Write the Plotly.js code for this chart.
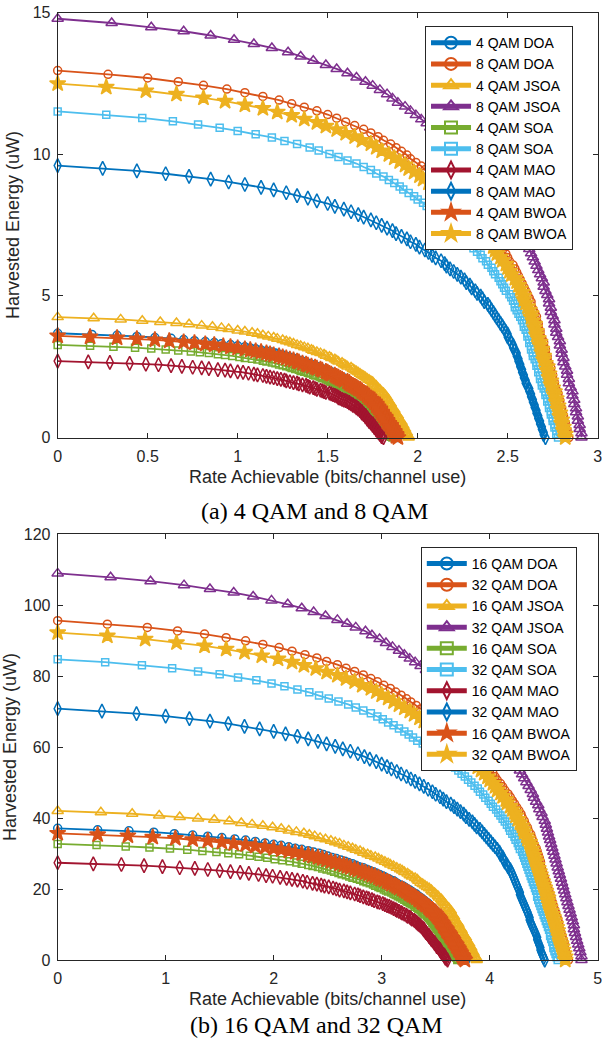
<!DOCTYPE html>
<html>
<head>
<meta charset="utf-8">
<script src="https://cdn.plot.ly/plotly-3.0.1.min.js"></script>
<style>html,body{margin:0;padding:0;background:#fff;}#chart{width:602px;height:1045px;}</style>
</head>
<body>
<div id="chart"></div>
<script>
// ---------- Panel (a): 4 QAM and 8 QAM ----------
const rate4DOA = [0,0.19,0.33,0.44,0.54,0.63,0.70,0.76,0.82,0.87,0.91,0.96,1.00,1.04,1.07,1.10,1.13,1.16,1.19,1.21,1.23,1.25,1.27,1.29,1.31,1.33,1.35,1.36,1.38,1.40,1.41,1.43,1.45,1.46,1.47,1.49,1.50,1.52,1.53,1.54,1.55,1.56,1.58,1.59,1.60,1.61,1.62,1.63,1.64,1.65,1.66,1.67,1.67,1.68,1.69,1.70,1.71,1.71,1.72,1.73,1.73,1.74,1.74,1.75,1.76,1.76,1.77,1.77,1.77,1.78,1.78,1.79,1.79,1.79,1.80,1.80,1.80,1.81,1.81,1.82,1.82,1.82,1.83,1.83,1.84,1.84,1.84,1.85,1.85,1.85,1.86,1.86,1.86,1.87,1.87,1.87,1.88,1.88,1.88,1.89,1.89];
const energy4DOA = [3.68,3.64,3.61,3.57,3.53,3.50,3.46,3.42,3.39,3.35,3.31,3.28,3.24,3.20,3.16,3.13,3.09,3.05,3.02,2.98,2.94,2.91,2.87,2.83,2.80,2.76,2.72,2.69,2.65,2.61,2.58,2.54,2.50,2.47,2.43,2.39,2.36,2.32,2.28,2.24,2.21,2.17,2.13,2.10,2.06,2.02,1.99,1.95,1.91,1.88,1.84,1.80,1.77,1.73,1.69,1.66,1.62,1.58,1.55,1.51,1.47,1.44,1.40,1.36,1.32,1.29,1.25,1.21,1.18,1.14,1.10,1.07,1.03,0.99,0.96,0.92,0.88,0.85,0.81,0.77,0.74,0.70,0.66,0.63,0.59,0.55,0.52,0.48,0.44,0.40,0.37,0.33,0.29,0.26,0.22,0.18,0.15,0.11,0.07,0.04,0];

const rate8DOA = [0,0.28,0.50,0.67,0.81,0.94,1.04,1.14,1.23,1.30,1.37,1.44,1.50,1.55,1.60,1.65,1.70,1.74,1.78,1.81,1.85,1.88,1.91,1.94,1.96,1.99,2.02,2.04,2.07,2.10,2.12,2.15,2.17,2.19,2.21,2.23,2.25,2.27,2.29,2.31,2.33,2.35,2.36,2.38,2.40,2.42,2.43,2.44,2.46,2.47,2.49,2.50,2.51,2.53,2.54,2.55,2.56,2.57,2.58,2.59,2.60,2.61,2.62,2.63,2.63,2.64,2.65,2.66,2.66,2.67,2.67,2.68,2.68,2.69,2.70,2.70,2.71,2.71,2.72,2.72,2.73,2.74,2.74,2.75,2.75,2.76,2.76,2.77,2.78,2.78,2.79,2.79,2.80,2.80,2.81,2.81,2.82,2.82,2.83,2.83,2.84];
const energy8DOA = [12.95,12.82,12.69,12.56,12.43,12.30,12.17,12.04,11.91,11.78,11.66,11.53,11.40,11.27,11.14,11.01,10.88,10.75,10.62,10.49,10.36,10.23,10.10,9.97,9.84,9.71,9.58,9.45,9.32,9.19,9.07,8.94,8.81,8.68,8.55,8.42,8.29,8.16,8.03,7.90,7.77,7.64,7.51,7.38,7.25,7.12,6.99,6.86,6.73,6.60,6.48,6.35,6.22,6.09,5.96,5.83,5.70,5.57,5.44,5.31,5.18,5.05,4.92,4.79,4.66,4.53,4.40,4.27,4.14,4.01,3.89,3.76,3.63,3.50,3.37,3.24,3.11,2.98,2.85,2.72,2.59,2.46,2.33,2.20,2.07,1.94,1.81,1.68,1.55,1.42,1.30,1.17,1.04,0.91,0.78,0.65,0.52,0.39,0.26,0.13,0];

const rate4JSOA = [0,0.20,0.35,0.47,0.57,0.66,0.73,0.80,0.86,0.91,0.95,1.00,1.04,1.08,1.11,1.14,1.17,1.20,1.22,1.25,1.27,1.29,1.31,1.33,1.35,1.37,1.39,1.41,1.42,1.44,1.46,1.48,1.49,1.51,1.52,1.54,1.55,1.56,1.58,1.59,1.60,1.61,1.63,1.64,1.65,1.66,1.67,1.68,1.69,1.70,1.71,1.72,1.73,1.74,1.75,1.75,1.76,1.77,1.77,1.78,1.79,1.79,1.80,1.81,1.81,1.82,1.82,1.83,1.83,1.83,1.84,1.84,1.85,1.85,1.85,1.86,1.86,1.87,1.87,1.87,1.88,1.88,1.89,1.89,1.89,1.90,1.90,1.91,1.91,1.91,1.92,1.92,1.92,1.93,1.93,1.93,1.94,1.94,1.94,1.95,1.95];
const energy4JSOA = [4.25,4.21,4.17,4.12,4.08,4.04,4.00,3.95,3.91,3.87,3.83,3.78,3.74,3.70,3.66,3.61,3.57,3.53,3.49,3.44,3.40,3.36,3.32,3.27,3.23,3.19,3.15,3.10,3.06,3.02,2.98,2.93,2.89,2.85,2.81,2.76,2.72,2.68,2.64,2.59,2.55,2.51,2.47,2.42,2.38,2.34,2.30,2.25,2.21,2.17,2.13,2.08,2.04,2.00,1.96,1.91,1.87,1.83,1.79,1.74,1.70,1.66,1.62,1.57,1.53,1.49,1.45,1.40,1.36,1.32,1.28,1.23,1.19,1.15,1.11,1.06,1.02,0.98,0.94,0.89,0.85,0.81,0.77,0.72,0.68,0.64,0.60,0.55,0.51,0.47,0.43,0.38,0.34,0.30,0.26,0.21,0.17,0.13,0.09,0.04,0];

const rate8JSOA = [0,0.30,0.52,0.70,0.85,0.98,1.09,1.19,1.28,1.35,1.42,1.49,1.55,1.61,1.66,1.71,1.75,1.79,1.83,1.86,1.89,1.93,1.96,1.99,2.02,2.05,2.07,2.10,2.12,2.15,2.18,2.20,2.23,2.25,2.27,2.29,2.31,2.33,2.35,2.38,2.39,2.41,2.43,2.44,2.46,2.48,2.49,2.51,2.52,2.54,2.55,2.57,2.58,2.59,2.60,2.62,2.63,2.64,2.65,2.66,2.67,2.68,2.69,2.70,2.70,2.71,2.72,2.73,2.73,2.74,2.74,2.75,2.76,2.76,2.77,2.77,2.78,2.79,2.79,2.80,2.80,2.81,2.81,2.82,2.83,2.83,2.84,2.84,2.85,2.86,2.86,2.87,2.87,2.88,2.88,2.89,2.89,2.90,2.90,2.91,2.91];
const energy8JSOA = [14.78,14.63,14.48,14.34,14.19,14.04,13.89,13.75,13.60,13.45,13.30,13.15,13.01,12.86,12.71,12.56,12.42,12.27,12.12,11.97,11.82,11.68,11.53,11.38,11.23,11.09,10.94,10.79,10.64,10.49,10.35,10.20,10.05,9.90,9.75,9.61,9.46,9.31,9.16,9.02,8.87,8.72,8.57,8.42,8.28,8.13,7.98,7.83,7.69,7.54,7.39,7.24,7.09,6.95,6.80,6.65,6.50,6.36,6.21,6.06,5.91,5.76,5.62,5.47,5.32,5.17,5.03,4.88,4.73,4.58,4.43,4.29,4.14,3.99,3.84,3.70,3.55,3.40,3.25,3.10,2.96,2.81,2.66,2.51,2.36,2.22,2.07,1.92,1.77,1.63,1.48,1.33,1.18,1.03,0.89,0.74,0.59,0.44,0.30,0.15,0];

const rate4SOA = [0,0.18,0.31,0.43,0.52,0.60,0.67,0.74,0.79,0.84,0.89,0.93,0.97,1.01,1.04,1.08,1.11,1.14,1.16,1.19,1.21,1.23,1.25,1.27,1.29,1.30,1.32,1.34,1.35,1.37,1.39,1.40,1.42,1.43,1.45,1.46,1.47,1.49,1.50,1.51,1.52,1.54,1.55,1.56,1.57,1.58,1.59,1.60,1.61,1.62,1.63,1.64,1.64,1.65,1.66,1.67,1.68,1.68,1.69,1.70,1.70,1.71,1.71,1.72,1.72,1.73,1.73,1.74,1.74,1.75,1.75,1.75,1.76,1.76,1.76,1.77,1.77,1.78,1.78,1.78,1.79,1.79,1.79,1.80,1.80,1.80,1.81,1.81,1.82,1.82,1.82,1.83,1.83,1.83,1.84,1.84,1.84,1.85,1.85,1.85,1.86];
const energy4SOA = [3.27,3.24,3.20,3.17,3.14,3.11,3.07,3.04,3.01,2.98,2.94,2.91,2.88,2.84,2.81,2.78,2.75,2.71,2.68,2.65,2.62,2.58,2.55,2.52,2.49,2.45,2.42,2.39,2.35,2.32,2.29,2.26,2.22,2.19,2.16,2.13,2.09,2.06,2.03,1.99,1.96,1.93,1.90,1.86,1.83,1.80,1.77,1.73,1.70,1.67,1.64,1.60,1.57,1.54,1.50,1.47,1.44,1.41,1.37,1.34,1.31,1.28,1.24,1.21,1.18,1.14,1.11,1.08,1.05,1.01,0.98,0.95,0.92,0.88,0.85,0.82,0.78,0.75,0.72,0.69,0.65,0.62,0.59,0.56,0.52,0.49,0.46,0.43,0.39,0.36,0.33,0.29,0.26,0.23,0.20,0.16,0.13,0.10,0.07,0.03,0];

const rate8SOA = [0,0.27,0.47,0.64,0.78,0.90,1.00,1.10,1.19,1.26,1.33,1.40,1.45,1.51,1.56,1.61,1.66,1.70,1.74,1.77,1.81,1.84,1.87,1.90,1.92,1.95,1.98,2.00,2.03,2.05,2.08,2.10,2.12,2.15,2.16,2.19,2.21,2.23,2.24,2.26,2.28,2.30,2.31,2.33,2.35,2.36,2.38,2.39,2.41,2.42,2.43,2.45,2.46,2.47,2.48,2.49,2.51,2.52,2.53,2.54,2.54,2.55,2.56,2.57,2.58,2.59,2.59,2.60,2.61,2.61,2.62,2.62,2.63,2.63,2.64,2.64,2.65,2.66,2.66,2.67,2.67,2.68,2.68,2.69,2.69,2.70,2.71,2.71,2.72,2.72,2.73,2.73,2.74,2.74,2.75,2.75,2.76,2.76,2.77,2.77,2.78];
const energy8SOA = [11.51,11.39,11.28,11.16,11.05,10.93,10.82,10.70,10.59,10.47,10.36,10.24,10.13,10.01,9.90,9.78,9.67,9.55,9.44,9.32,9.21,9.09,8.98,8.86,8.75,8.63,8.52,8.40,8.29,8.17,8.06,7.94,7.83,7.71,7.60,7.48,7.37,7.25,7.14,7.02,6.91,6.79,6.68,6.56,6.45,6.33,6.22,6.10,5.99,5.87,5.76,5.64,5.52,5.41,5.29,5.18,5.06,4.95,4.83,4.72,4.60,4.49,4.37,4.26,4.14,4.03,3.91,3.80,3.68,3.57,3.45,3.34,3.22,3.11,2.99,2.88,2.76,2.65,2.53,2.42,2.30,2.19,2.07,1.96,1.84,1.73,1.61,1.50,1.38,1.27,1.15,1.04,0.92,0.81,0.69,0.58,0.46,0.35,0.23,0.12,0];

const rate4MAO = [0,0.17,0.29,0.40,0.49,0.56,0.63,0.69,0.75,0.80,0.84,0.89,0.93,0.96,1.00,1.03,1.06,1.09,1.11,1.14,1.16,1.18,1.20,1.22,1.24,1.26,1.27,1.29,1.31,1.33,1.34,1.36,1.38,1.39,1.40,1.42,1.43,1.44,1.46,1.47,1.48,1.49,1.51,1.52,1.53,1.54,1.55,1.56,1.56,1.57,1.58,1.59,1.60,1.61,1.62,1.62,1.63,1.64,1.64,1.65,1.66,1.66,1.67,1.67,1.68,1.68,1.69,1.69,1.69,1.70,1.70,1.71,1.71,1.71,1.72,1.72,1.72,1.73,1.73,1.73,1.74,1.74,1.75,1.75,1.75,1.76,1.76,1.76,1.77,1.77,1.77,1.78,1.78,1.78,1.79,1.79,1.79,1.80,1.80,1.80,1.81];
const energy4MAO = [2.70,2.67,2.65,2.62,2.59,2.57,2.54,2.51,2.48,2.46,2.43,2.40,2.38,2.35,2.32,2.30,2.27,2.24,2.21,2.19,2.16,2.13,2.11,2.08,2.05,2.03,2.00,1.97,1.94,1.92,1.89,1.86,1.84,1.81,1.78,1.76,1.73,1.70,1.67,1.65,1.62,1.59,1.57,1.54,1.51,1.49,1.46,1.43,1.40,1.38,1.35,1.32,1.30,1.27,1.24,1.22,1.19,1.16,1.13,1.11,1.08,1.05,1.03,1.00,0.97,0.95,0.92,0.89,0.86,0.84,0.81,0.78,0.76,0.73,0.70,0.68,0.65,0.62,0.59,0.57,0.54,0.51,0.49,0.46,0.43,0.41,0.38,0.35,0.32,0.30,0.27,0.24,0.22,0.19,0.16,0.14,0.11,0.08,0.05,0.03,0];

const rate8MAO = [0,0.25,0.44,0.60,0.73,0.85,0.95,1.04,1.13,1.20,1.27,1.33,1.39,1.44,1.50,1.54,1.59,1.63,1.67,1.70,1.74,1.77,1.80,1.83,1.86,1.88,1.91,1.94,1.96,1.99,2.01,2.04,2.06,2.08,2.10,2.13,2.15,2.16,2.18,2.20,2.22,2.24,2.26,2.27,2.29,2.30,2.32,2.33,2.35,2.36,2.37,2.39,2.40,2.41,2.42,2.43,2.44,2.45,2.46,2.47,2.48,2.49,2.50,2.50,2.51,2.52,2.53,2.53,2.54,2.55,2.55,2.56,2.56,2.57,2.57,2.58,2.58,2.59,2.59,2.60,2.60,2.61,2.62,2.62,2.63,2.63,2.64,2.64,2.65,2.65,2.66,2.66,2.67,2.67,2.68,2.68,2.69,2.69,2.70,2.70,2.71];
const energy8MAO = [9.60,9.50,9.41,9.31,9.22,9.12,9.02,8.93,8.83,8.74,8.64,8.54,8.45,8.35,8.26,8.16,8.06,7.97,7.87,7.78,7.68,7.58,7.49,7.39,7.30,7.20,7.10,7.01,6.91,6.82,6.72,6.62,6.53,6.43,6.34,6.24,6.14,6.05,5.95,5.86,5.76,5.66,5.57,5.47,5.38,5.28,5.18,5.09,4.99,4.90,4.80,4.70,4.61,4.51,4.42,4.32,4.22,4.13,4.03,3.94,3.84,3.74,3.65,3.55,3.46,3.36,3.26,3.17,3.07,2.98,2.88,2.78,2.69,2.59,2.50,2.40,2.30,2.21,2.11,2.02,1.92,1.82,1.73,1.63,1.54,1.44,1.34,1.25,1.15,1.06,0.96,0.86,0.77,0.67,0.58,0.48,0.38,0.29,0.19,0.10,0];

const rate4BWOA = [0,0.18,0.33,0.44,0.54,0.62,0.70,0.76,0.82,0.87,0.92,0.96,1.00,1.04,1.07,1.10,1.13,1.16,1.18,1.20,1.23,1.25,1.27,1.29,1.31,1.33,1.34,1.36,1.38,1.39,1.41,1.43,1.44,1.46,1.47,1.49,1.50,1.51,1.52,1.54,1.55,1.56,1.57,1.58,1.59,1.61,1.62,1.62,1.63,1.64,1.65,1.66,1.67,1.68,1.69,1.69,1.70,1.71,1.72,1.72,1.73,1.73,1.74,1.75,1.75,1.76,1.76,1.77,1.77,1.77,1.78,1.78,1.79,1.79,1.79,1.80,1.80,1.80,1.81,1.81,1.82,1.82,1.82,1.83,1.83,1.83,1.84,1.84,1.85,1.85,1.85,1.86,1.86,1.86,1.87,1.87,1.87,1.88,1.88,1.88,1.89];
const energy4BWOA = [3.59,3.55,3.52,3.48,3.45,3.41,3.37,3.34,3.30,3.27,3.23,3.20,3.16,3.12,3.09,3.05,3.02,2.98,2.94,2.91,2.87,2.84,2.80,2.76,2.73,2.69,2.66,2.62,2.58,2.55,2.51,2.48,2.44,2.41,2.37,2.33,2.30,2.26,2.23,2.19,2.15,2.12,2.08,2.05,2.01,1.97,1.94,1.90,1.87,1.83,1.80,1.76,1.72,1.69,1.65,1.62,1.58,1.54,1.51,1.47,1.44,1.40,1.36,1.33,1.29,1.26,1.22,1.18,1.15,1.11,1.08,1.04,1.01,0.97,0.93,0.90,0.86,0.83,0.79,0.75,0.72,0.68,0.65,0.61,0.57,0.54,0.50,0.47,0.43,0.39,0.36,0.32,0.29,0.25,0.22,0.18,0.14,0.11,0.07,0.04,0];

const rate8BWOA = [0,0.27,0.49,0.66,0.81,0.93,1.04,1.14,1.22,1.30,1.37,1.44,1.49,1.55,1.60,1.65,1.69,1.74,1.77,1.80,1.84,1.87,1.90,1.93,1.95,1.98,2.01,2.03,2.06,2.08,2.11,2.13,2.16,2.18,2.20,2.22,2.24,2.26,2.28,2.30,2.32,2.33,2.35,2.37,2.39,2.40,2.42,2.43,2.44,2.46,2.47,2.49,2.50,2.51,2.52,2.54,2.55,2.56,2.57,2.58,2.59,2.59,2.60,2.61,2.62,2.63,2.63,2.64,2.65,2.65,2.66,2.66,2.67,2.68,2.68,2.69,2.69,2.70,2.70,2.71,2.72,2.72,2.73,2.73,2.74,2.74,2.75,2.76,2.76,2.77,2.77,2.78,2.78,2.79,2.79,2.80,2.80,2.81,2.81,2.82,2.82];
const energy8BWOA = [12.49,12.37,12.24,12.12,11.99,11.87,11.74,11.62,11.49,11.37,11.24,11.12,10.99,10.87,10.74,10.62,10.49,10.37,10.24,10.12,9.99,9.87,9.74,9.62,9.49,9.37,9.24,9.12,8.99,8.87,8.74,8.62,8.49,8.37,8.24,8.12,7.99,7.87,7.74,7.62,7.49,7.37,7.24,7.12,6.99,6.87,6.74,6.62,6.49,6.37,6.25,6.12,6.00,5.87,5.75,5.62,5.50,5.37,5.25,5.12,5.00,4.87,4.75,4.62,4.50,4.37,4.25,4.12,4.00,3.87,3.75,3.62,3.50,3.37,3.25,3.12,3.00,2.87,2.75,2.62,2.50,2.37,2.25,2.12,2.00,1.87,1.75,1.62,1.50,1.37,1.25,1.12,1.00,0.87,0.75,0.62,0.50,0.37,0.25,0.12,0];

// ---------- Panel (b): 16 QAM and 32 QAM ----------
const rate16DOA = [0,0.37,0.66,0.89,1.08,1.25,1.39,1.52,1.64,1.74,1.83,1.92,2.00,2.07,2.14,2.20,2.26,2.32,2.37,2.42,2.46,2.50,2.54,2.58,2.62,2.66,2.69,2.73,2.76,2.79,2.83,2.86,2.89,2.92,2.95,2.98,3.01,3.03,3.06,3.08,3.11,3.13,3.15,3.18,3.20,3.22,3.24,3.26,3.28,3.30,3.32,3.33,3.35,3.37,3.38,3.40,3.41,3.43,3.44,3.45,3.47,3.48,3.49,3.50,3.51,3.52,3.53,3.54,3.55,3.56,3.56,3.57,3.58,3.59,3.59,3.60,3.61,3.62,3.63,3.63,3.64,3.65,3.66,3.66,3.67,3.68,3.69,3.69,3.70,3.71,3.72,3.72,3.73,3.73,3.74,3.75,3.75,3.76,3.77,3.78,3.78];
const energy16DOA = [37.1,36.7,36.4,36.0,35.6,35.2,34.9,34.5,34.1,33.8,33.4,33.0,32.6,32.3,31.9,31.5,31.2,30.8,30.4,30.1,29.7,29.3,28.9,28.6,28.2,27.8,27.5,27.1,26.7,26.3,26.0,25.6,25.2,24.9,24.5,24.1,23.7,23.4,23.0,22.6,22.3,21.9,21.5,21.1,20.8,20.4,20.0,19.7,19.3,18.9,18.6,18.2,17.8,17.4,17.1,16.7,16.3,16.0,15.6,15.2,14.8,14.5,14.1,13.7,13.4,13.0,12.6,12.2,11.9,11.5,11.1,10.8,10.4,10.0,9.6,9.3,8.9,8.5,8.2,7.8,7.4,7.0,6.7,6.3,5.9,5.6,5.2,4.8,4.5,4.1,3.7,3.3,3.0,2.6,2.2,1.9,1.5,1.1,0.7,0.4,0];

const rate32DOA = [0,0.46,0.83,1.11,1.36,1.56,1.74,1.90,2.05,2.17,2.29,2.40,2.49,2.59,2.67,2.75,2.83,2.90,2.96,3.02,3.08,3.13,3.18,3.23,3.27,3.32,3.36,3.41,3.45,3.49,3.53,3.58,3.61,3.65,3.69,3.72,3.76,3.79,3.82,3.86,3.88,3.91,3.94,3.97,4.00,4.03,4.05,4.07,4.10,4.12,4.14,4.17,4.19,4.21,4.23,4.25,4.27,4.29,4.30,4.32,4.33,4.35,4.36,4.38,4.39,4.40,4.41,4.43,4.44,4.45,4.46,4.47,4.47,4.48,4.49,4.50,4.51,4.52,4.53,4.54,4.55,4.56,4.57,4.58,4.59,4.60,4.61,4.62,4.63,4.64,4.64,4.65,4.66,4.67,4.68,4.69,4.69,4.70,4.71,4.72,4.73];
const energy32DOA = [95.6,94.6,93.7,92.7,91.8,90.8,89.9,88.9,88.0,87.0,86.0,85.1,84.1,83.2,82.2,81.3,80.3,79.3,78.4,77.4,76.5,75.5,74.6,73.6,72.7,71.7,70.7,69.8,68.8,67.9,66.9,66.0,65.0,64.1,63.1,62.1,61.2,60.2,59.3,58.3,57.4,56.4,55.4,54.5,53.5,52.6,51.6,50.7,49.7,48.8,47.8,46.8,45.9,44.9,44.0,43.0,42.1,41.1,40.2,39.2,38.2,37.3,36.3,35.4,34.4,33.5,32.5,31.5,30.6,29.6,28.7,27.7,26.8,25.8,24.9,23.9,22.9,22.0,21.0,20.1,19.1,18.2,17.2,16.3,15.3,14.3,13.4,12.4,11.5,10.5,9.6,8.6,7.6,6.7,5.7,4.8,3.8,2.9,1.9,1.0,0];

const rate16JSOA = [0,0.40,0.69,0.94,1.13,1.30,1.45,1.59,1.70,1.80,1.90,1.99,2.07,2.14,2.21,2.28,2.33,2.38,2.43,2.48,2.53,2.57,2.61,2.65,2.69,2.73,2.76,2.80,2.83,2.87,2.90,2.94,2.97,3.00,3.03,3.06,3.08,3.11,3.14,3.17,3.19,3.21,3.24,3.26,3.28,3.31,3.33,3.34,3.36,3.38,3.40,3.42,3.44,3.46,3.47,3.49,3.50,3.52,3.53,3.55,3.56,3.57,3.58,3.59,3.60,3.62,3.62,3.64,3.64,3.65,3.66,3.67,3.67,3.68,3.69,3.70,3.71,3.71,3.72,3.73,3.74,3.74,3.75,3.76,3.77,3.78,3.78,3.79,3.80,3.81,3.81,3.82,3.83,3.83,3.84,3.85,3.85,3.86,3.87,3.88,3.88];
const energy16JSOA = [42.0,41.6,41.2,40.7,40.3,39.9,39.5,39.1,38.6,38.2,37.8,37.4,37.0,36.5,36.1,35.7,35.3,34.9,34.4,34.0,33.6,33.2,32.8,32.3,31.9,31.5,31.1,30.7,30.2,29.8,29.4,29.0,28.6,28.1,27.7,27.3,26.9,26.5,26.0,25.6,25.2,24.8,24.4,23.9,23.5,23.1,22.7,22.3,21.8,21.4,21.0,20.6,20.2,19.7,19.3,18.9,18.5,18.1,17.6,17.2,16.8,16.4,16.0,15.5,15.1,14.7,14.3,13.9,13.4,13.0,12.6,12.2,11.8,11.3,10.9,10.5,10.1,9.7,9.2,8.8,8.4,8.0,7.6,7.1,6.7,6.3,5.9,5.5,5.0,4.6,4.2,3.8,3.4,2.9,2.5,2.1,1.7,1.3,0.8,0.4,0];

const rate32JSOA = [0,0.49,0.86,1.17,1.41,1.63,1.81,1.98,2.13,2.26,2.37,2.48,2.59,2.68,2.76,2.85,2.91,2.98,3.04,3.10,3.16,3.21,3.26,3.31,3.36,3.41,3.45,3.50,3.54,3.58,3.63,3.67,3.71,3.75,3.78,3.82,3.86,3.89,3.92,3.96,3.99,4.02,4.04,4.07,4.10,4.13,4.16,4.18,4.20,4.23,4.25,4.28,4.30,4.32,4.34,4.36,4.38,4.40,4.41,4.43,4.45,4.46,4.48,4.49,4.51,4.52,4.53,4.54,4.55,4.56,4.57,4.58,4.59,4.60,4.61,4.62,4.63,4.64,4.65,4.66,4.67,4.68,4.69,4.70,4.71,4.72,4.73,4.74,4.75,4.76,4.77,4.78,4.78,4.79,4.80,4.81,4.82,4.83,4.84,4.85,4.85];
const energy32JSOA = [108.9,107.8,106.7,105.6,104.5,103.5,102.4,101.3,100.2,99.1,98.0,96.9,95.8,94.7,93.7,92.6,91.5,90.4,89.3,88.2,87.1,86.0,84.9,83.9,82.8,81.7,80.6,79.5,78.4,77.3,76.2,75.1,74.1,73.0,71.9,70.8,69.7,68.6,67.5,66.4,65.3,64.3,63.2,62.1,61.0,59.9,58.8,57.7,56.6,55.5,54.5,53.4,52.3,51.2,50.1,49.0,47.9,46.8,45.7,44.6,43.6,42.5,41.4,40.3,39.2,38.1,37.0,35.9,34.8,33.8,32.7,31.6,30.5,29.4,28.3,27.2,26.1,25.0,24.0,22.9,21.8,20.7,19.6,18.5,17.4,16.3,15.2,14.2,13.1,12.0,10.9,9.8,8.7,7.6,6.5,5.4,4.4,3.3,2.2,1.1,0];

const rate16SOA = [0,0.36,0.63,0.85,1.04,1.20,1.34,1.47,1.58,1.68,1.78,1.86,1.94,2.01,2.08,2.15,2.21,2.26,2.32,2.36,2.41,2.45,2.49,2.53,2.56,2.60,2.63,2.67,2.70,2.73,2.77,2.80,2.83,2.86,2.89,2.92,2.94,2.97,2.99,3.02,3.04,3.06,3.09,3.11,3.13,3.15,3.17,3.19,3.21,3.23,3.24,3.26,3.28,3.30,3.31,3.33,3.34,3.36,3.37,3.38,3.39,3.40,3.42,3.43,3.44,3.45,3.46,3.47,3.47,3.48,3.49,3.50,3.50,3.51,3.52,3.53,3.53,3.54,3.55,3.56,3.56,3.57,3.58,3.59,3.59,3.60,3.61,3.61,3.62,3.63,3.64,3.64,3.65,3.66,3.66,3.67,3.67,3.68,3.69,3.70,3.70];
const energy16SOA = [32.7,32.4,32.0,31.7,31.4,31.1,30.7,30.4,30.1,29.8,29.4,29.1,28.8,28.4,28.1,27.8,27.5,27.1,26.8,26.5,26.2,25.8,25.5,25.2,24.9,24.5,24.2,23.9,23.5,23.2,22.9,22.6,22.2,21.9,21.6,21.3,20.9,20.6,20.3,19.9,19.6,19.3,19.0,18.6,18.3,18.0,17.7,17.3,17.0,16.7,16.4,16.0,15.7,15.4,15.0,14.7,14.4,14.1,13.7,13.4,13.1,12.8,12.4,12.1,11.8,11.4,11.1,10.8,10.5,10.1,9.8,9.5,9.2,8.8,8.5,8.2,7.8,7.5,7.2,6.9,6.5,6.2,5.9,5.6,5.2,4.9,4.6,4.3,3.9,3.6,3.3,2.9,2.6,2.3,2.0,1.6,1.3,1.0,0.7,0.3,0];

const rate32SOA = [0,0.44,0.78,1.06,1.30,1.50,1.67,1.84,1.98,2.10,2.22,2.33,2.42,2.51,2.60,2.69,2.76,2.83,2.90,2.96,3.01,3.06,3.11,3.16,3.21,3.25,3.29,3.33,3.38,3.42,3.46,3.50,3.54,3.58,3.61,3.64,3.68,3.71,3.74,3.77,3.80,3.83,3.86,3.89,3.91,3.94,3.96,3.99,4.01,4.03,4.06,4.08,4.10,4.12,4.14,4.16,4.18,4.19,4.21,4.23,4.24,4.26,4.27,4.28,4.30,4.31,4.32,4.33,4.34,4.35,4.36,4.37,4.38,4.39,4.40,4.41,4.42,4.43,4.44,4.44,4.45,4.46,4.47,4.48,4.49,4.50,4.51,4.52,4.53,4.54,4.55,4.56,4.56,4.57,4.58,4.59,4.59,4.60,4.61,4.62,4.63];
const energy32SOA = [84.7,83.9,83.0,82.2,81.3,80.5,79.6,78.8,77.9,77.1,76.2,75.4,74.5,73.7,72.8,72.0,71.1,70.3,69.5,68.6,67.8,66.9,66.1,65.2,64.4,63.5,62.7,61.8,61.0,60.1,59.3,58.4,57.6,56.7,55.9,55.1,54.2,53.4,52.5,51.7,50.8,50.0,49.1,48.3,47.4,46.6,45.7,44.9,44.0,43.2,42.4,41.5,40.7,39.8,39.0,38.1,37.3,36.4,35.6,34.7,33.9,33.0,32.2,31.3,30.5,29.6,28.8,28.0,27.1,26.3,25.4,24.6,23.7,22.9,22.0,21.2,20.3,19.5,18.6,17.8,16.9,16.1,15.2,14.4,13.6,12.7,11.9,11.0,10.2,9.3,8.5,7.6,6.8,5.9,5.1,4.2,3.4,2.5,1.7,0.8,0];

const rate16MAO = [0,0.33,0.59,0.80,0.97,1.13,1.27,1.39,1.50,1.60,1.69,1.77,1.86,1.93,1.99,2.06,2.12,2.17,2.22,2.27,2.31,2.36,2.40,2.44,2.47,2.51,2.55,2.58,2.61,2.65,2.68,2.71,2.75,2.78,2.80,2.83,2.86,2.88,2.91,2.93,2.96,2.98,3.01,3.03,3.05,3.07,3.09,3.11,3.13,3.14,3.16,3.18,3.19,3.21,3.23,3.24,3.26,3.27,3.28,3.30,3.31,3.32,3.33,3.34,3.35,3.36,3.37,3.38,3.39,3.39,3.40,3.41,3.41,3.42,3.43,3.44,3.44,3.45,3.46,3.46,3.47,3.48,3.49,3.49,3.50,3.51,3.51,3.52,3.53,3.54,3.54,3.55,3.55,3.56,3.57,3.58,3.58,3.59,3.59,3.60,3.61];
const energy16MAO = [27.4,27.1,26.9,26.6,26.3,26.0,25.8,25.5,25.2,24.9,24.7,24.4,24.1,23.8,23.6,23.3,23.0,22.7,22.5,22.2,21.9,21.6,21.4,21.1,20.8,20.6,20.3,20.0,19.7,19.5,19.2,18.9,18.6,18.4,18.1,17.8,17.5,17.3,17.0,16.7,16.4,16.2,15.9,15.6,15.3,15.1,14.8,14.5,14.2,14.0,13.7,13.4,13.2,12.9,12.6,12.3,12.1,11.8,11.5,11.2,11.0,10.7,10.4,10.1,9.9,9.6,9.3,9.0,8.8,8.5,8.2,7.9,7.7,7.4,7.1,6.9,6.6,6.3,6.0,5.8,5.5,5.2,4.9,4.7,4.4,4.1,3.8,3.6,3.3,3.0,2.7,2.5,2.2,1.9,1.6,1.4,1.1,0.8,0.5,0.3,0];

const rate32MAO = [0,0.41,0.73,1.00,1.22,1.41,1.58,1.73,1.87,2.00,2.11,2.22,2.32,2.41,2.49,2.57,2.64,2.71,2.78,2.84,2.89,2.95,3.00,3.05,3.09,3.14,3.18,3.23,3.27,3.31,3.35,3.39,3.43,3.47,3.50,3.54,3.57,3.60,3.64,3.67,3.70,3.73,3.76,3.78,3.81,3.84,3.86,3.88,3.91,3.93,3.95,3.97,3.99,4.01,4.03,4.05,4.07,4.09,4.10,4.12,4.13,4.14,4.16,4.17,4.19,4.20,4.21,4.22,4.23,4.24,4.25,4.26,4.27,4.28,4.28,4.29,4.30,4.31,4.32,4.33,4.34,4.35,4.36,4.37,4.37,4.38,4.39,4.40,4.41,4.42,4.43,4.44,4.44,4.45,4.46,4.47,4.47,4.48,4.49,4.50,4.51];
const energy32MAO = [70.8,70.1,69.4,68.7,68.0,67.3,66.6,65.8,65.1,64.4,63.7,63.0,62.3,61.6,60.9,60.2,59.5,58.8,58.1,57.3,56.6,55.9,55.2,54.5,53.8,53.1,52.4,51.7,51.0,50.3,49.6,48.9,48.1,47.4,46.7,46.0,45.3,44.6,43.9,43.2,42.5,41.8,41.1,40.4,39.6,38.9,38.2,37.5,36.8,36.1,35.4,34.7,34.0,33.3,32.6,31.9,31.2,30.4,29.7,29.0,28.3,27.6,26.9,26.2,25.5,24.8,24.1,23.4,22.7,21.9,21.2,20.5,19.8,19.1,18.4,17.7,17.0,16.3,15.6,14.9,14.2,13.5,12.7,12.0,11.3,10.6,9.9,9.2,8.5,7.8,7.1,6.4,5.7,5.0,4.2,3.5,2.8,2.1,1.4,0.7,0];

const rate16BWOA = [0,0.37,0.65,0.88,1.09,1.25,1.39,1.52,1.63,1.74,1.83,1.92,2.00,2.07,2.14,2.20,2.26,2.32,2.36,2.41,2.45,2.49,2.53,2.57,2.61,2.65,2.68,2.71,2.75,2.78,2.82,2.85,2.88,2.91,2.94,2.97,2.99,3.02,3.05,3.07,3.09,3.12,3.14,3.16,3.19,3.21,3.23,3.25,3.26,3.28,3.30,3.32,3.34,3.35,3.37,3.38,3.40,3.41,3.43,3.44,3.45,3.46,3.48,3.49,3.50,3.51,3.52,3.53,3.54,3.54,3.55,3.56,3.57,3.57,3.58,3.59,3.60,3.60,3.61,3.62,3.63,3.63,3.64,3.65,3.66,3.66,3.67,3.68,3.69,3.69,3.70,3.71,3.71,3.72,3.73,3.73,3.74,3.75,3.75,3.76,3.77];
const energy16BWOA = [35.7,35.3,35.0,34.6,34.3,33.9,33.6,33.2,32.8,32.5,32.1,31.8,31.4,31.1,30.7,30.3,30.0,29.6,29.3,28.9,28.6,28.2,27.8,27.5,27.1,26.8,26.4,26.1,25.7,25.3,25.0,24.6,24.3,23.9,23.6,23.2,22.8,22.5,22.1,21.8,21.4,21.1,20.7,20.3,20.0,19.6,19.3,18.9,18.6,18.2,17.9,17.5,17.1,16.8,16.4,16.1,15.7,15.4,15.0,14.6,14.3,13.9,13.6,13.2,12.9,12.5,12.1,11.8,11.4,11.1,10.7,10.4,10.0,9.6,9.3,8.9,8.6,8.2,7.9,7.5,7.1,6.8,6.4,6.1,5.7,5.4,5.0,4.6,4.3,3.9,3.6,3.2,2.9,2.5,2.1,1.8,1.4,1.1,0.7,0.4,0];

const rate32BWOA = [0,0.46,0.81,1.10,1.36,1.56,1.73,1.89,2.04,2.17,2.28,2.39,2.49,2.59,2.67,2.75,2.82,2.90,2.95,3.00,3.06,3.11,3.16,3.21,3.26,3.30,3.35,3.39,3.43,3.47,3.52,3.56,3.60,3.63,3.67,3.70,3.74,3.77,3.80,3.84,3.86,3.89,3.92,3.95,3.98,4.00,4.03,4.05,4.07,4.10,4.12,4.15,4.16,4.19,4.21,4.23,4.24,4.26,4.28,4.30,4.31,4.32,4.34,4.35,4.37,4.38,4.39,4.40,4.41,4.42,4.43,4.44,4.45,4.46,4.47,4.48,4.49,4.50,4.51,4.52,4.53,4.54,4.54,4.55,4.56,4.57,4.58,4.59,4.60,4.61,4.62,4.63,4.63,4.64,4.65,4.66,4.67,4.68,4.69,4.70,4.70];
const energy32BWOA = [92.2,91.3,90.4,89.4,88.5,87.6,86.7,85.7,84.8,83.9,83.0,82.1,81.1,80.2,79.3,78.4,77.4,76.5,75.6,74.7,73.8,72.8,71.9,71.0,70.1,69.2,68.2,67.3,66.4,65.5,64.5,63.6,62.7,61.8,60.9,59.9,59.0,58.1,57.2,56.2,55.3,54.4,53.5,52.6,51.6,50.7,49.8,48.9,47.9,47.0,46.1,45.2,44.3,43.3,42.4,41.5,40.6,39.6,38.7,37.8,36.9,36.0,35.0,34.1,33.2,32.3,31.3,30.4,29.5,28.6,27.7,26.7,25.8,24.9,24.0,23.1,22.1,21.2,20.3,19.4,18.4,17.5,16.6,15.7,14.8,13.8,12.9,12.0,11.1,10.1,9.2,8.3,7.4,6.5,5.5,4.6,3.7,2.8,1.8,0.9,0];

// ---------- labels ----------
const namesA = ['4 QAM DOA','8 QAM DOA','4 QAM JSOA','8 QAM JSOA','4 QAM SOA','8 QAM SOA','4 QAM MAO','8 QAM MAO','4 QAM BWOA','8 QAM BWOA'];
const namesB = ['16 QAM DOA','32 QAM DOA','16 QAM JSOA','32 QAM JSOA','16 QAM SOA','32 QAM SOA','16 QAM MAO','32 QAM MAO','16 QAM BWOA','32 QAM BWOA'];
const xLabel = 'Rate Achievable (bits/channel use)';
const yLabel = 'Harvested Energy (uW)';
const captionA = '(a) 4 QAM and 8 QAM';
const captionB = '(b) 16 QAM and 32 QAM';

// ---------- styles ----------
const C = {blue:'#0072BD', orange:'#D95319', yellow:'#EDB120', purple:'#7E2F8E', green:'#77AC30', cyan:'#4DBEEE', red:'#A2142F'};
const styles = [
  {c:C.blue,   s:'circle-open',       sz:8},
  {c:C.orange, s:'circle-open',       sz:8},
  {c:C.yellow, s:'triangle-up-open',  sz:10},
  {c:C.purple, s:'triangle-up-open',  sz:10},
  {c:C.green,  s:'square-open',       sz:7},
  {c:C.cyan,   s:'square-open',       sz:7},
  {c:C.red,    s:'diamond-tall-open', sz:10},
  {c:C.blue,   s:'diamond-tall-open', sz:10},
  {c:C.orange, s:'star',              sz:12},
  {c:C.yellow, s:'star',              sz:12}
];

const seriesA = [[rate4DOA,energy4DOA],[rate8DOA,energy8DOA],[rate4JSOA,energy4JSOA],[rate8JSOA,energy8JSOA],[rate4SOA,energy4SOA],[rate8SOA,energy8SOA],[rate4MAO,energy4MAO],[rate8MAO,energy8MAO],[rate4BWOA,energy4BWOA],[rate8BWOA,energy8BWOA]];
const seriesB = [[rate16DOA,energy16DOA],[rate32DOA,energy32DOA],[rate16JSOA,energy16JSOA],[rate32JSOA,energy32JSOA],[rate16SOA,energy16SOA],[rate32SOA,energy32SOA],[rate16MAO,energy16MAO],[rate32MAO,energy32MAO],[rate16BWOA,energy16BWOA],[rate32BWOA,energy32BWOA]];

function trace(name, xy, st, xa, ya, leg){
  return {
    type:'scatter', mode:'lines+markers', name:name, x:xy[0], y:xy[1],
    xaxis:xa, yaxis:ya, legend:leg, cliponaxis:false,
    line:{color:st.c, width:1.8},
    marker:{symbol:st.s, size:st.sz, color:st.c, line:{color:st.c, width:1.5}}
  };
}
const data = [];
seriesA.forEach((xy,i)=>data.push(trace(namesA[i], xy, styles[i], 'x', 'y', 'legend')));
seriesB.forEach((xy,i)=>data.push(trace(namesB[i], xy, styles[i], 'x2', 'y2', 'legend2')));

const FONT = 'Liberation Sans, Arial, Helvetica, sans-serif';
const axisCommon = {
  showline:true, linecolor:'#262626', linewidth:1, mirror:'allticks',
  ticks:'inside', ticklen:5, tickwidth:1, tickcolor:'#262626',
  showgrid:false, zeroline:false,
  tickfont:{family:FONT, size:16, color:'#262626'}
};
function xAxis(range, dtick, anchor){
  return Object.assign({}, axisCommon, {
    domain:[0.0958, 0.9928], range:range, dtick:dtick, anchor:anchor,
    ticklabelstandoff:4, ticklabeloverflow:'allow',
    title:{text:xLabel, font:{family:FONT, size:18, color:'#262626'}, standoff:6}
  });
}
function yAxis(domain, range, dtick, anchor){
  return Object.assign({}, axisCommon, {
    domain:domain, range:range, dtick:dtick, anchor:anchor, ticklabelstandoff:3,
    title:{text:yLabel, font:{family:FONT, size:18, color:'#262626'}, standoff:8}
  });
}
const legendCommon = {
  bgcolor:'#ffffff', bordercolor:'#262626', borderwidth:1,
  font:{family:FONT, size:14, color:'#000000'},
  xanchor:'left', yanchor:'top', itemwidth:40, tracegroupgap:0, itemsizing:'constant'
};

const layout = {
  width:602, height:1045, paper_bgcolor:'#ffffff', plot_bgcolor:'#ffffff',
  margin:{l:0, r:0, t:0, b:0}, showlegend:true,
  xaxis: xAxis([0,3], 0.5, 'y'),
  yaxis: yAxis([0.5813, 0.9880], [0,15], 5, 'x'),
  xaxis2: xAxis([0,5], 1, 'y2'),
  yaxis2: yAxis([0.0813, 0.4890], [0,120], 20, 'x2'),
  legend: Object.assign({}, legendCommon, {x:0.706, y:0.975}),
  legend2: Object.assign({}, legendCommon, {x:0.699, y:0.4766}),
  annotations:[
    {text:captionA, xref:'paper', yref:'paper', x:0.523, y:0.511, xanchor:'center', yanchor:'middle', showarrow:false, font:{family:'Liberation Serif, Times New Roman, serif', size:24, color:'#000'}},
    {text:captionB, xref:'paper', yref:'paper', x:0.525, y:0.019, xanchor:'center', yanchor:'middle', showarrow:false, font:{family:'Liberation Serif, Times New Roman, serif', size:24, color:'#000'}}
  ]
};

Plotly.newPlot('chart', data, layout, {displayModeBar:false, staticPlot:true});
</script>
</body>
</html>
